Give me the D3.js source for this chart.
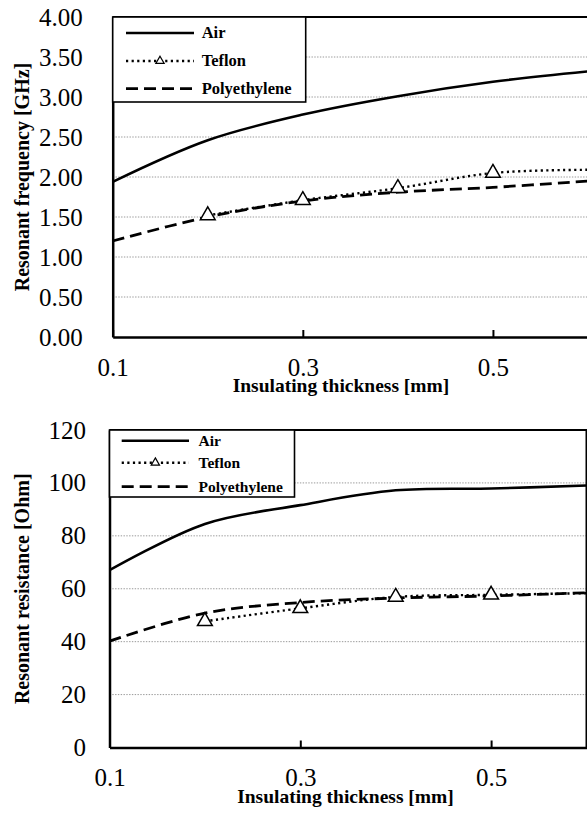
<!DOCTYPE html>
<html>
<head>
<meta charset="utf-8">
<script src="https://cdn.jsdelivr.net/npm/d3@7"></script>
<style>
  body { margin: 0; background: #fff; }
  svg { display: block; }
</style>
</head>
<body>
<svg width="587" height="813"></svg>
<script>
// thickness values [mm]
const thickness = [0.1, 0.2, 0.3, 0.4, 0.5, 0.6];
const teflonThickness = [0.2, 0.3, 0.4, 0.5, 0.6];
const teflonMarkerThickness = [0.2, 0.3, 0.4, 0.5];
const xTicks = [0.1, 0.3, 0.5];
const seriesNames = ["Air", "Teflon", "Polyethylene"];

// resonant frequency [GHz]
const freqAir = [1.94, 2.46, 2.78, 3.01, 3.19, 3.32];
const freqTeflon = [1.52, 1.71, 1.86, 2.05, 2.09];
const freqPE = [1.20, 1.50, 1.70, 1.81, 1.87, 1.95];
const freqTicks = [0, 0.5, 1, 1.5, 2, 2.5, 3, 3.5, 4];

// resonant resistance [Ohm]
const resAir = [67, 84.5, 91.6, 97.2, 97.9, 99.0];
const resTeflon = [47.7, 52.6, 56.9, 57.7, 58.3];
const resPE = [40.2, 50.8, 54.8, 56.5, 57.3, 58.5];
const resTicks = [0, 20, 40, 60, 80, 100, 120];

const svg = d3.select("svg");
const serif = "'Liberation Serif', 'Times New Roman', serif";

const styles = {
  Air: { width: 2.6, dash: null },
  Teflon: { width: 2.4, dash: "2.2,3.4" },
  Polyethylene: { width: 2.8, dash: "12,6" }
};

const triangle = d3.symbol().type(d3.symbolTriangle);

function panel(cfg) {
  const x = d3.scaleLinear().domain([0.1, 0.6]).range([cfg.left, cfg.right]);
  const y = d3.scaleLinear().domain([0, cfg.yMax]).range([cfg.bottom, cfg.top]);
  const g = svg.append("g");

  // dotted gridlines
  g.selectAll(".grid")
    .data(cfg.yTicks.filter(v => v > 0 && v < cfg.yMax))
    .join("line")
    .attr("x1", cfg.left).attr("x2", cfg.right)
    .attr("y1", d => y(d)).attr("y2", d => y(d))
    .attr("stroke", "#9a9a9a")
    .attr("stroke-width", 1)
    .attr("stroke-dasharray", "1.4,1.4");

  // frame top + right
  g.append("path")
    .attr("d", `M${cfg.left},${cfg.top}H${cfg.right}V${cfg.bottom}`)
    .attr("fill", "none").attr("stroke", "#000").attr("stroke-width", 2);

  const line = d3.line()
    .x(d => x(d[0])).y(d => y(d[1]))
    .curve(d3.curveCatmullRom.alpha(0.5));

  const series = [
    { name: "Air", pts: d3.zip(thickness, cfg.air) },
    { name: "Teflon", pts: d3.zip(teflonThickness, cfg.teflon) },
    { name: "Polyethylene", pts: d3.zip(thickness, cfg.pe) }
  ];

  g.selectAll(".series")
    .data(series)
    .join("path")
    .attr("d", d => line(d.pts))
    .attr("fill", "none")
    .attr("stroke", "#000")
    .attr("stroke-width", d => styles[d.name].width)
    .attr("stroke-dasharray", d => styles[d.name].dash);

  // teflon markers
  const marks = series[1].pts.filter(p => teflonMarkerThickness.includes(p[0]));
  g.selectAll(".mark")
    .data(marks)
    .join("path")
    .attr("d", triangle.size(95))
    .attr("transform", d => `translate(${x(d[0])},${y(d[1])})`)
    .attr("fill", "#fff").attr("stroke", "#000").attr("stroke-width", 1.5);

  // axes
  const xAxis = g.append("g")
    .attr("transform", `translate(0,${cfg.bottom})`)
    .call(d3.axisBottom(x).tickValues(xTicks).tickSizeInner(-7).tickSizeOuter(0)
      .tickPadding(21).tickFormat(d3.format(".1f")));
  xAxis.attr("font-family", serif).attr("font-size", cfg.tickFont);
  xAxis.select(".domain").attr("stroke-width", 2.5);
  xAxis.selectAll(".tick line").attr("stroke-width", 2);
  xAxis.selectAll("text").attr("fill", "#000");

  const yAxis = g.append("g")
    .attr("transform", `translate(${cfg.left},0)`)
    .call(d3.axisLeft(y).tickValues(cfg.yTicks).tickSize(0)
      .tickPadding(cfg.yPad).tickFormat(cfg.fmt));
  yAxis.attr("font-family", serif).attr("font-size", cfg.tickFont);
  yAxis.select(".domain").attr("stroke-width", 2.5);
  yAxis.selectAll("text").attr("fill", "#000");

  // axis titles
  g.append("text")
    .attr("x", cfg.xTitleX).attr("y", cfg.xTitleY)
    .attr("text-anchor", "middle")
    .attr("font-family", serif).attr("font-weight", "bold").attr("font-size", 19.5)
    .text("Insulating thickness [mm]");

  g.append("text")
    .attr("transform", `translate(${cfg.yTitleX},${(cfg.top + cfg.bottom) / 2}) rotate(-90)`)
    .attr("text-anchor", "middle")
    .attr("font-family", serif).attr("font-weight", "bold").attr("font-size", 20)
    .text(cfg.yTitle);

  // legend
  const L = cfg.legend;
  const lg = g.append("g");
  lg.append("rect")
    .attr("x", cfg.left).attr("y", cfg.top)
    .attr("width", L.w).attr("height", L.h)
    .attr("fill", "#fff").attr("stroke", "#000").attr("stroke-width", 1.6);

  const rows = lg.selectAll(".row")
    .data(seriesNames)
    .join("g")
    .attr("transform", (d, i) => `translate(0,${L.rows[i]})`);

  rows.append("line")
    .attr("x1", L.x0).attr("x2", L.x1)
    .attr("stroke", "#000")
    .attr("stroke-width", d => styles[d].width)
    .attr("stroke-dasharray", d => styles[d].dash);

  rows.filter(d => d === "Teflon")
    .append("path")
    .attr("d", triangle.size(30))
    .attr("transform", `translate(${(L.x0 + L.x1) / 2},0)`)
    .attr("fill", "#fff").attr("stroke", "#000").attr("stroke-width", 1.2);

  rows.append("text")
    .attr("x", L.tx)
    .attr("y", L.font * 0.33)
    .attr("font-family", serif).attr("font-weight", "bold").attr("font-size", L.font)
    .text(d => d);
}

panel({
  left: 112.7, right: 588, top: 17, bottom: 337,
  yMax: 4, yTicks: freqTicks, fmt: d3.format(".2f"), yPad: 30, tickFont: 25,
  air: freqAir, teflon: freqTeflon, pe: freqPE,
  xTitleX: 341, xTitleY: 392,
  yTitleX: 29, yTitle: "Resonant frequency [GHz]",
  legend: { w: 193, h: 85, rows: [33, 61, 88.7], x0: 126, x1: 194, tx: 201.7, font: 16.5 }
});

panel({
  left: 109.5, right: 586.5, top: 430, bottom: 747.5,
  yMax: 120, yTicks: resTicks, fmt: d3.format("d"), yPad: 23.5, tickFont: 25,
  air: resAir, teflon: resTeflon, pe: resPE,
  xTitleX: 345.5, xTitleY: 803,
  yTitleX: 29, yTitle: "Resonant resistance [Ohm]",
  legend: { w: 185, h: 67, rows: [440.7, 462.7, 486.7], x0: 121.7, x1: 189, tx: 198.5, font: 15.5 }
});
</script>
</body>
</html>
